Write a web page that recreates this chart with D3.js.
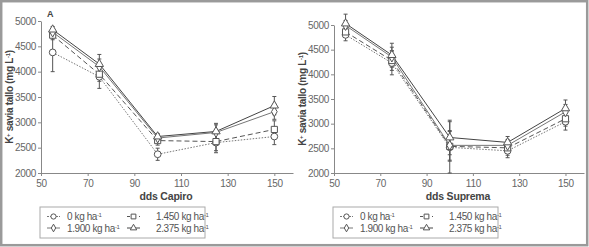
<!DOCTYPE html>
<html>
<head>
<meta charset="utf-8">
<script src="https://cdn.jsdelivr.net/npm/d3@7"></script>
<style>
  body { margin: 0; background: #fff; }
  svg { display: block; font-family: "Liberation Sans", Arial, sans-serif; }
  .tick text { fill: #666; font-size: 10px; letter-spacing: -0.3px; }
  .domain, .tick line { stroke: #888; }
</style>
</head>
<body>
<div id="chart"></div>
<script>
// days after sowing
var dds = [55, 75, 100, 125, 150];
var doseLabels = ["0 kg ha", "1.450 kg ha", "1.900 kg ha", "2.375 kg ha"];
var xTicks = [50, 70, 90, 110, 130, 150];
var yTicks = [2000, 2500, 3000, 3500, 4000, 4500, 5000];

// Capiro: mean K+ per dose, and error
var capiro0 = [4380, 3900, 2370, 2600, 2720];
var capiro1450 = [4720, 3950, 2640, 2620, 2860];
var capiro1900 = [4780, 4100, 2690, 2800, 3210];
var capiro2375 = [4830, 4150, 2720, 2820, 3330];
var capiroErr0 = [380, 230, 120, 200, 160];
var capiroErr1450 = [90, 140, 90, 180, 170];
var capiroErr1900 = [70, 150, 70, 150, 150];
var capiroErr2375 = [60, 190, 60, 160, 180];

// Suprema
var suprema0 = [4800, 4230, 2520, 2450, 3040];
var suprema1450 = [4860, 4280, 2540, 2510, 3100];
var suprema1900 = [4990, 4350, 2560, 2560, 3240];
var suprema2375 = [5030, 4390, 2720, 2620, 3310];
var supremaErr0 = [120, 240, 520, 140, 170];
var supremaErr1450 = [100, 200, 300, 150, 150];
var supremaErr1900 = [100, 200, 300, 120, 150];
var supremaErr2375 = [190, 240, 350, 120, 170];

var W = 589, H = 247;
var svg = d3.select("#chart").append("svg")
    .attr("width", W)
    .attr("height", H);

// outer frame
svg.append("rect")
    .attr("x", 1.2).attr("y", 1.2)
    .attr("width", W - 3).attr("height", H - 3)
    .attr("fill", "none")
    .attr("stroke", "#9a9a9a")
    .attr("stroke-width", 2.5);

// series styles: marker + dash
var styles = [
  { sym: d3.symbolCircle, size: 36, dash: "1.5,1.5", color: "#777", width: 1 },
  { sym: d3.symbolSquare, size: 38, dash: "5,3", color: "#555", width: 1 },
  { sym: d3.symbolDiamond, size: 28, dash: null, color: "#777", width: 1 },
  { sym: d3.symbolTriangle, size: 30, dash: null, color: "#444", width: 1 }
];

function drawPanel(opt) {
  var x = d3.scaleLinear().domain([50, 158]).range([opt.left, opt.right]);
  var y = d3.scaleLinear().domain([2000, 5000]).range([opt.bottom, opt.top]);

  var g = svg.append("g");

  g.append("g")
      .attr("transform", "translate(0," + opt.bottom + ")")
      .call(d3.axisBottom(x).tickValues(xTicks).tickFormat(d3.format("d"))
        .tickSize(3).tickSizeOuter(0).tickPadding(4));

  g.append("g")
      .attr("transform", "translate(" + opt.left + ",0)")
      .call(d3.axisLeft(y).tickValues(yTicks).tickFormat(d3.format("d"))
        .tickSize(3).tickSizeOuter(0).tickPadding(2));

  // x title
  g.append("text")
      .attr("x", opt.xTitleX).attr("y", opt.bottom + 27)
      .attr("text-anchor", "middle")
      .attr("font-size", 10.5).attr("font-weight", "bold").attr("fill", "#444")
      .attr("letter-spacing", "-0.2px")
      .text(opt.xTitle);

  // y title
  var yt = g.append("text")
      .attr("transform", "translate(" + (opt.left - 28) + "," + ((opt.top + opt.bottom) / 2) + ") rotate(-90)")
      .attr("text-anchor", "middle")
      .attr("font-size", 10).attr("font-weight", "bold").attr("fill", "#444")
      .attr("letter-spacing", "-0.3px");
  yt.append("tspan").text("K");
  yt.append("tspan").attr("baseline-shift", "super").attr("font-size", "0.6em").text("+");
  yt.append("tspan").text(" savia tallo (mg L");
  yt.append("tspan").attr("baseline-shift", "super").attr("font-size", "0.6em").text("-1");
  yt.append("tspan").text(")");

  if (opt.letter) {
    g.append("text")
        .attr("x", opt.left + 6).attr("y", opt.top - 4)
        .attr("font-size", 9).attr("font-weight", "bold").attr("fill", "#444")
        .text(opt.letter);
  }

  var line = d3.line()
      .x(function(d) { return x(d.x); })
      .y(function(d) { return y(d.v); });

  // error bars first
  opt.series.forEach(function(s, i) {
    var pts = dds.map(function(d, j) { return { x: d, v: s[j], e: opt.errors[i][j] }; });
    var eb = g.append("g").attr("stroke", "#555").attr("stroke-width", 1);
    pts.forEach(function(p) {
      var lo = Math.max(2000, p.v - p.e);
      eb.append("line")
          .attr("x1", x(p.x)).attr("x2", x(p.x))
          .attr("y1", y(lo)).attr("y2", y(p.v + p.e));
      [lo, p.v + p.e].forEach(function(c) {
        eb.append("line")
            .attr("x1", x(p.x) - 2).attr("x2", x(p.x) + 2)
            .attr("y1", y(c)).attr("y2", y(c));
      });
    });
  });

  opt.series.forEach(function(s, i) {
    var st = styles[i];
    var pts = dds.map(function(d, j) { return { x: d, v: s[j] }; });
    g.append("path")
        .datum(pts)
        .attr("d", line)
        .attr("fill", "none")
        .attr("stroke", st.color)
        .attr("stroke-width", st.width)
        .attr("stroke-dasharray", st.dash);
  });

  opt.series.forEach(function(s, i) {
    var st = styles[i];
    var pts = dds.map(function(d, j) { return { x: d, v: s[j] }; });
    g.selectAll(null)
        .data(pts)
        .enter()
        .append("path")
        .attr("transform", function(d) { return "translate(" + x(d.x) + "," + y(d.v) + ")"; })
        .attr("d", d3.symbol().type(st.sym).size(st.size))
        .attr("fill", "#fff")
        .attr("stroke", "#555")
        .attr("stroke-width", 1);
  });

  // legend
  var lg = g.append("g").attr("transform", "translate(" + opt.legendX + ",207)");
  lg.append("rect")
      .attr("width", 165).attr("height", 31)
      .attr("fill", "#fff").attr("stroke", "#aaa").attr("stroke-width", 1);
  var cols = [[7, 27], [87, 116]];
  doseLabels.forEach(function(lbl, i) {
    var st = styles[i];
    var cx = cols[i % 2][0], tx = cols[i % 2][1];
    var cy = i < 2 ? 9.5 : 21;
    lg.append("line")
        .attr("x1", cx).attr("x2", cx + 13)
        .attr("y1", cy).attr("y2", cy)
        .attr("stroke", st.color)
        .attr("stroke-dasharray", st.dash ? (i === 0 ? "2,1" : "3,3") : null);
    lg.append("path")
        .attr("transform", "translate(" + (cx + 6.5) + "," + cy + ")")
        .attr("d", d3.symbol().type(st.sym).size(st.size * 0.6))
        .attr("fill", "#fff").attr("stroke", "#555");
    var t = lg.append("text")
        .attr("x", tx).attr("y", cy + 3.5)
        .attr("font-size", 10).attr("fill", "#555")
        .attr("letter-spacing", "-0.4px");
    t.append("tspan").text(lbl);
    t.append("tspan").attr("baseline-shift", "super").attr("font-size", "0.6em").text("-1");
  });
}

drawPanel({
  left: 41, right: 293, top: 21, bottom: 173,
  xTitle: "dds Capiro", xTitleX: 166, letter: "A",
  legendX: 40,
  series: [capiro0, capiro1450, capiro1900, capiro2375],
  errors: [capiroErr0, capiroErr1450, capiroErr1900, capiroErr2375]
});

drawPanel({
  left: 334, right: 584, top: 25, bottom: 173,
  xTitle: "dds Suprema", xTitleX: 458, letter: null,
  legendX: 333,
  series: [suprema0, suprema1450, suprema1900, suprema2375],
  errors: [supremaErr0, supremaErr1450, supremaErr1900, supremaErr2375]
});
</script>
</body>
</html>
